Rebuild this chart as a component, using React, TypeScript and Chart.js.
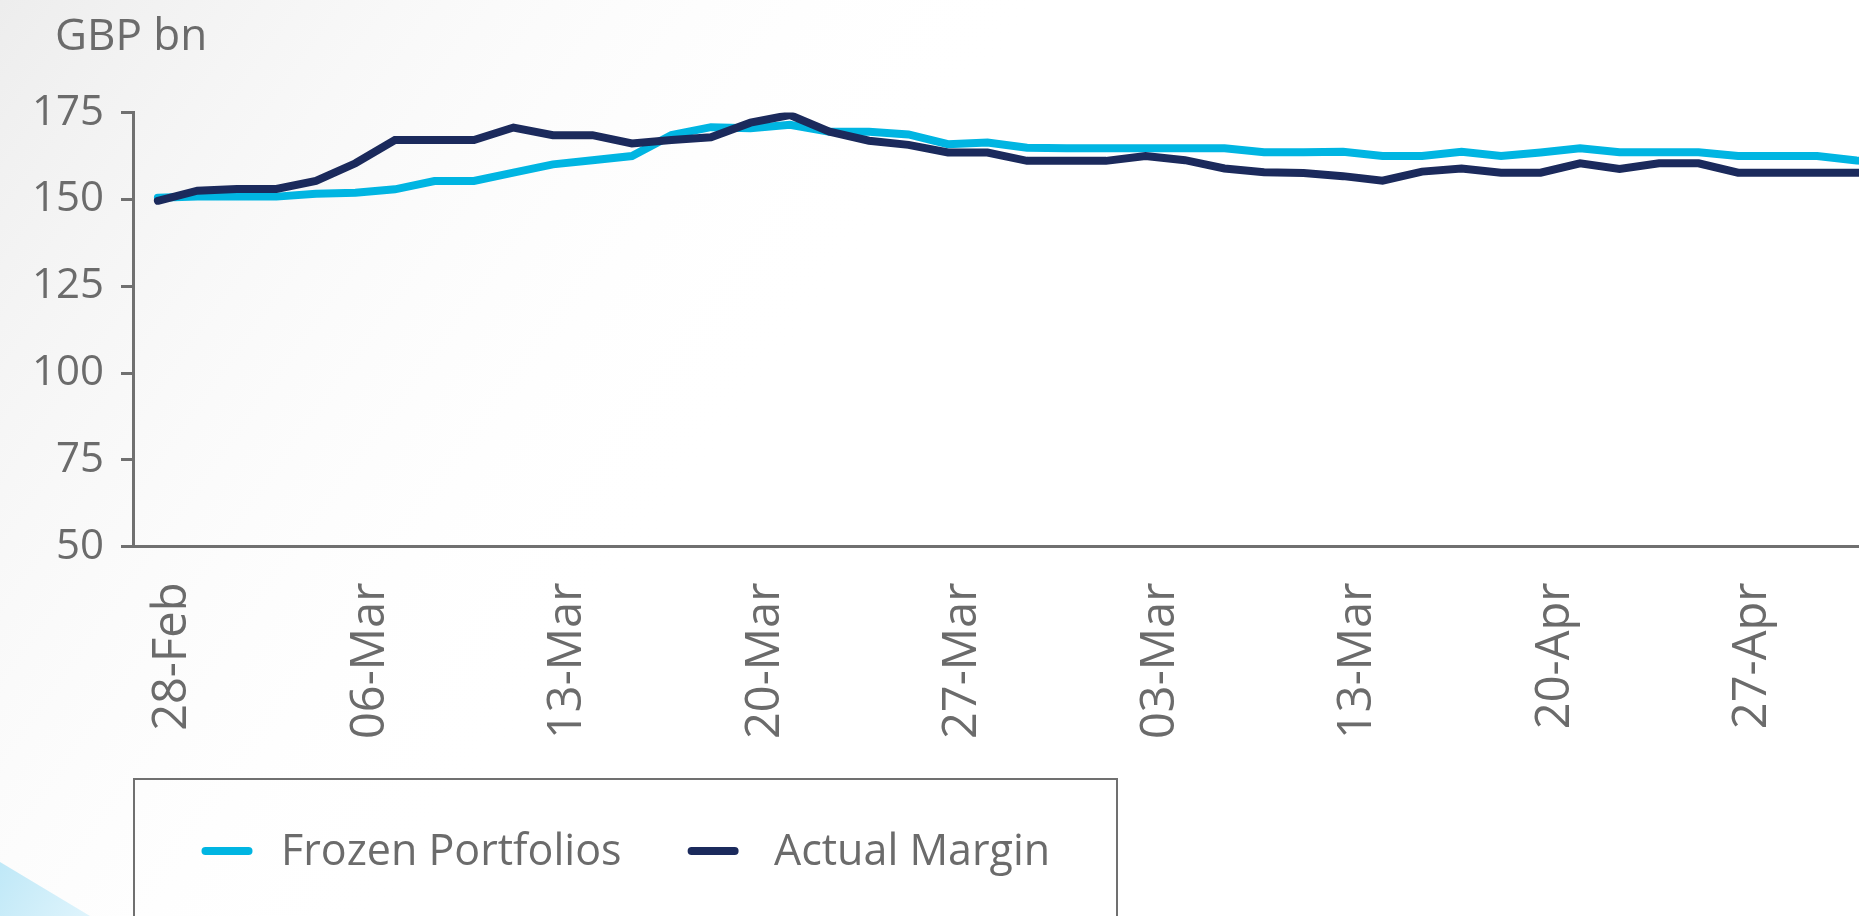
import React, { useEffect, useRef } from 'react';
import { Chart, registerables } from 'chart.js';

Chart.register(...registerables);

// ---------- data ----------
const dateLabels = ['28-Feb', '06-Mar', '13-Mar', '20-Mar', '27-Mar', '03-Mar', '13-Mar', '20-Apr', '27-Apr'];
const labelEvery = 5;

const frozenPortfolios = [
  150.5, 150.8, 150.8, 150.8, 151.6, 151.9, 152.9, 155.3, 155.3, 157.7,
  160.1, 161.3, 162.5, 168.5, 170.8, 170.5, 171.5, 169.5, 169.5, 168.7,
  165.9, 166.4, 164.9, 164.7, 164.7, 164.7, 164.7, 164.7, 163.6, 163.6,
  163.7, 162.5, 162.5, 163.7, 162.5, 163.5, 164.7, 163.6, 163.6, 163.6,
  162.5, 162.5, 162.5, 161.2, 160.8,
];

const actualMargin = [
  149.6, 152.5, 153.0, 153.0, 155.3, 160.4, 167.1, 167.1, 167.1, 170.7,
  168.5, 168.5, 166.1, 167.1, 167.9, 172.1, 174.3, 169.5, 166.9, 165.7,
  163.5, 163.5, 161.1, 161.1, 161.1, 162.5, 161.3, 158.9, 157.8, 157.6,
  156.7, 155.4, 158.0, 158.9, 157.7, 157.7, 160.4, 158.8, 160.4, 160.4,
  157.7, 157.7, 157.7, 157.7, 157.7,
];

const yTickValues = [50, 75, 100, 125, 150, 175];
const seriesNames = ['Frozen Portfolios', 'Actual Margin'];
const seriesColors = ['#00b5e2', '#1b2a5c'];
const unitLabel = 'GBP bn';

// ---------- styles ----------
const FONT = "'Open Sans', sans-serif";
const TEXT = '#6b6b6b';
const AXIS = '#707070';

const backgroundPlugin = {
  id: 'pageBackground',
  beforeDraw(chart: any) {
    const { ctx, width, height } = chart;
    ctx.save();
    ctx.fillStyle = '#ffffff';
    ctx.fillRect(0, 0, width, height);
    const g = ctx.createLinearGradient(0, 0, 700, 500);
    g.addColorStop(0, 'rgba(235,235,235,0.9)');
    g.addColorStop(1, 'rgba(255,255,255,0)');
    ctx.fillStyle = g;
    ctx.fillRect(0, 0, width, height);
    const b = ctx.createLinearGradient(0, 860, 90, 916);
    b.addColorStop(0, '#bfe8f7');
    b.addColorStop(1, '#dff4fc');
    ctx.fillStyle = b;
    ctx.beginPath();
    ctx.moveTo(0, 862);
    ctx.lineTo(90, 916);
    ctx.lineTo(0, 916);
    ctx.closePath();
    ctx.fill();
    ctx.restore();
  },
};

const unitLabelPlugin = {
  id: 'unitLabel',
  afterDraw(chart: any, _args: any, opts: any) {
    const { ctx, chartArea } = chart;
    ctx.save();
    ctx.fillStyle = opts.color;
    ctx.font = `${opts.fontSize}px ${FONT}`;
    ctx.textAlign = 'left';
    ctx.textBaseline = 'middle';
    ctx.fillText(opts.text, chartArea.left + opts.offsetX, chartArea.top + opts.offsetY);
    ctx.restore();
  },
};

const boxedLegendPlugin = {
  id: 'boxedLegend',
  afterDraw(chart: any, _args: any, opts: any) {
    const { ctx, chartArea } = chart;
    const left = chartArea.left + opts.offsetX;
    const top = chartArea.bottom + opts.offsetY;
    ctx.save();
    ctx.strokeStyle = opts.borderColor;
    ctx.lineWidth = 2;
    ctx.strokeRect(left, top, opts.width, opts.height);
    chart.data.datasets.forEach((ds: any, i: number) => {
      const sx = left + opts.itemX[i];
      const cy = top + opts.rowY;
      ctx.strokeStyle = ds.borderColor;
      ctx.lineWidth = 8;
      ctx.lineCap = 'round';
      ctx.beginPath();
      ctx.moveTo(sx + 4, cy);
      ctx.lineTo(sx + opts.swatch - 4, cy);
      ctx.stroke();
      ctx.fillStyle = opts.color;
      ctx.font = `${opts.fontSize}px ${FONT}`;
      ctx.textBaseline = 'middle';
      ctx.textAlign = 'left';
      ctx.fillText(ds.label, left + opts.textX[i], cy + opts.textDy);
    });
    ctx.restore();
  },
};

export default function App() {
  const ref = useRef<HTMLCanvasElement | null>(null);

  useEffect(() => {
    if (!ref.current) return;
    const series = [frozenPortfolios, actualMargin];
    const chart = new Chart(ref.current, {
      type: 'line',
      data: {
        datasets: series.map((vals, i) => ({
          label: seriesNames[i],
          data: vals.map((v, idx) => ({ x: idx, y: v })),
          borderColor: seriesColors[i],
          backgroundColor: seriesColors[i],
          borderWidth: 8,
          pointRadius: 0,
          tension: 0,
          borderCapStyle: 'round',
          borderJoinStyle: 'miter',
          order: i === 0 ? 2 : 1,
        })),
      },
      plugins: [backgroundPlugin, unitLabelPlugin, boxedLegendPlugin],
      options: {
        responsive: false,
        animation: false,
        devicePixelRatio: 1,
        layout: { padding: { left: 0, right: 20, top: 112.6, bottom: 213.4 } },
        plugins: {
          legend: { display: false },
          tooltip: { enabled: false },
          title: { display: false },
          unitLabel: {
            text: unitLabel,
            offsetX: -78,
            offsetY: -75,
            fontSize: 44,
            color: TEXT,
          },
          boxedLegend: {
            offsetX: 1,
            offsetY: 232.4,
            width: 983,
            height: 300,
            borderColor: AXIS,
            itemX: [67.5, 553.6],
            textX: [147, 640],
            swatch: 51,
            rowY: 72,
            textDy: 2,
            fontSize: 43,
            color: TEXT,
          },
        } as any,
        scales: {
          x: {
            type: 'linear',
            min: -0.63,
            max: 44.63,
            afterBuildTicks: (s: any) => {
              s.ticks = dateLabels.map((_, k) => ({ value: k * labelEvery }));
            },
            afterFit: (s: any) => {
              s.height = 200;
            },
            ticks: {
              autoSkip: false,
              minRotation: 90,
              maxRotation: 90,
              padding: 36,
              labelOffset: 15,
              color: TEXT,
              font: { family: FONT, size: 47 },
              callback: (v: any) => dateLabels[Math.round(Number(v) / labelEvery)] ?? '',
            },
            grid: { drawOnChartArea: false, drawTicks: false },
            border: { display: true, color: AXIS, width: 3 },
          },
          y: {
            type: 'linear',
            min: 50,
            max: 175,
            afterBuildTicks: (s: any) => {
              s.ticks = yTickValues.map((v) => ({ value: v }));
            },
            afterFit: (s: any) => {
              s.width = 133;
            },
            ticks: {
              padding: 17,
              color: TEXT,
              font: { family: FONT, size: 42 },
            },
            grid: {
              drawOnChartArea: false,
              drawTicks: true,
              tickLength: 12,
              tickWidth: 3,
              tickColor: AXIS,
            },
            border: { display: true, color: AXIS, width: 3 },
          },
        },
      } as any,
    });
    return () => chart.destroy();
  }, []);

  return (
    <div
      style={{
        position: 'absolute',
        left: 0,
        top: 0,
        width: 1859,
        height: 916,
        overflow: 'hidden',
        background: '#ffffff',
      }}
    >
      <canvas ref={ref} width={1941} height={960} style={{ display: 'block' }} />
    </div>
  );
}
